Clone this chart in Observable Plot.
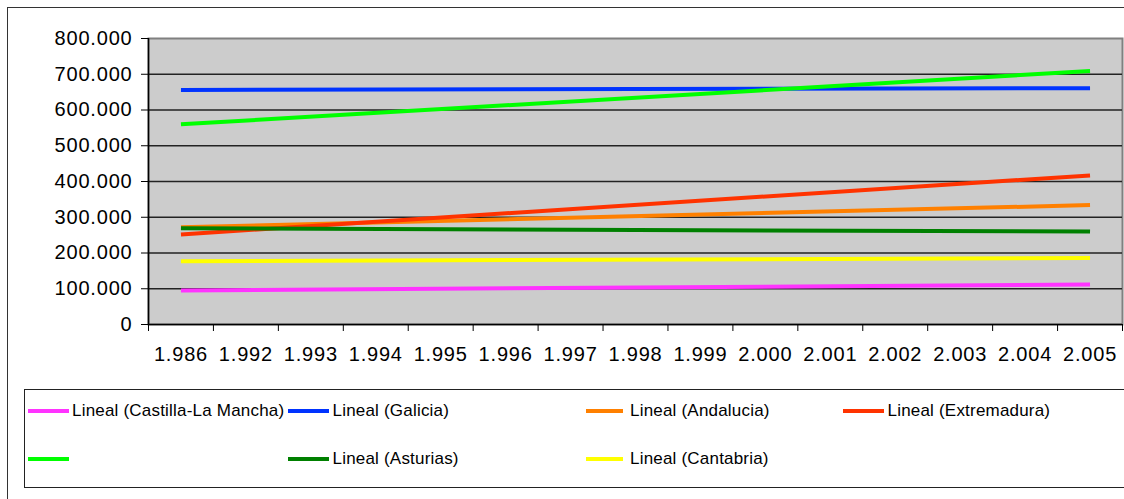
<!DOCTYPE html>
<html>
<head>
<meta charset="utf-8">
<script src="https://cdn.jsdelivr.net/npm/d3@7"></script>
<script src="https://cdn.jsdelivr.net/npm/@observablehq/plot@0.6"></script>
<style>
  html, body { margin: 0; padding: 0; background: #fff; overflow: hidden; }
  #wrap { position: relative; width: 1124px; height: 499px; overflow: hidden; font-family: "Liberation Sans", Arial, sans-serif; }
  #chart { position: absolute; left: 0; top: 0; }
  #frame { position: absolute; left: 7px; top: 7px; width: 1300px; height: 700px; border: 1.5px solid #333; pointer-events: none; }
  #legend { position: absolute; left: 23.5px; top: 388.5px; width: 1300px; height: 97px; border: 1.5px solid #222; }
  .item { position: absolute; height: 20px; }
  .sw { position: absolute; height: 4px; }
  .lab { position: absolute; font-size: 17px; letter-spacing: 0.2px; color: #000; white-space: nowrap; line-height: 20px; }
</style>
</head>
<body>
<div id="wrap">
  <div id="chart"></div>
  <div id="legend"></div>
  <div id="frame"></div>
</div>
<script>
// Categories (x axis tick labels)
const years = ["1.986","1.992","1.993","1.994","1.995","1.996","1.997","1.998","1.999","2.000","2.001","2.002","2.003","2.004","2.005"];
// Series (linear trend lines), in legend order
const seriesNames = ["Lineal (Castilla-La Mancha)", "Lineal (Galicia)", "Lineal (Andalucia)", "Lineal (Extremadura)", "", "Lineal (Asturias)", "Lineal (Cantabria)"];
const seriesColors = ["#ff33ff", "#0033ff", "#ff8000", "#ff3300", "#00ff00", "#008000", "#ffff00"];
// Trend values at first category (1.986) and last category (2.005)
const valuesFirst = [95000, 656000, 272000, 252000, 560000, 269000, 177000];
const valuesLast  = [112000, 661000, 334000, 417000, 709000, 260000, 186000];
// Y axis ticks
const yTicks = [0, 100000, 200000, 300000, 400000, 500000, 600000, 700000, 800000];

const fmt = d3.formatLocale({decimal: ",", thousands: ".", grouping: [3], currency: ["", ""]}).format(",");

const rows = seriesNames.flatMap((s, i) => [
  {idx: 0, value: valuesFirst[i], series: i},
  {idx: years.length - 1, value: valuesLast[i], series: i}
]);

const lineMarks = seriesNames.map((s, i) =>
  Plot.line(rows.filter(d => d.series === i), {x: "idx", y: "value", stroke: seriesColors[i], strokeWidth: 4, strokeLinecap: "butt"})
);

const chart = Plot.plot({
  width: 1124,
  height: 380,
  marginLeft: 148,
  marginRight: 2,
  marginTop: 38,
  marginBottom: 56,
  style: {fontFamily: "'Liberation Sans', Arial, sans-serif", fontSize: "20px", background: "transparent", color: "#000", letterSpacing: "0.8px"},
  x: {type: "linear", domain: [-0.5, years.length - 0.5]},
  y: {domain: [0, 800000]},
  marks: [
    Plot.frame({fill: "#cccccc", stroke: "#808080", strokeWidth: 2}),
    Plot.ruleY(yTicks.filter(v => v > 0 && v < 800000), {stroke: "#222", strokeWidth: 1.5}),
    ...lineMarks,
    Plot.ruleY([0], {stroke: "#000", strokeWidth: 1.5}),
    Plot.ruleX([-0.5], {stroke: "#000", strokeWidth: 1.5}),
    Plot.axisY({ticks: yTicks, tickSize: 7, tickPadding: 9, tickFormat: fmt, label: null}),
    Plot.axisX({ticks: d3.range(years.length + 1).map(i => i - 0.5), tickSize: 7, tickFormat: () => "", label: null}),
    Plot.axisX({ticks: d3.range(years.length), tickSize: 0, tickPadding: 22, tickFormat: i => years[i], label: null})
  ]
});
document.getElementById("chart").appendChild(chart);

// Legend
const legend = document.getElementById("legend");
const colX = [[28, 72.5], [288.5, 333], [586, 630.5], [843, 888]]; // swatch start, text start (page coords)
const rowY = [411, 459];
const swW = [41, 41, 37, 41];
const positions = [[0,0],[0,1],[0,2],[0,3],[1,0],[1,1],[1,2]];
seriesNames.forEach((name, i) => {
  const [r, c] = positions[i];
  const ox = 25, oy = 390; // legend box inner origin
  const sw = document.createElement("div");
  sw.className = "sw";
  sw.style.left = (colX[c][0] - ox) + "px";
  sw.style.width = swW[c] + "px";
  sw.style.top = (rowY[r] - 2 - oy) + "px";
  sw.style.background = seriesColors[i];
  legend.appendChild(sw);
  if (name) {
    const t = document.createElement("div");
    t.className = "lab";
    t.style.left = (colX[c][1] - ox) + "px";
    t.style.top = (rowY[r] - 10 - oy) + "px";
    t.textContent = name;
    legend.appendChild(t);
  }
});
</script>
</body>
</html>
